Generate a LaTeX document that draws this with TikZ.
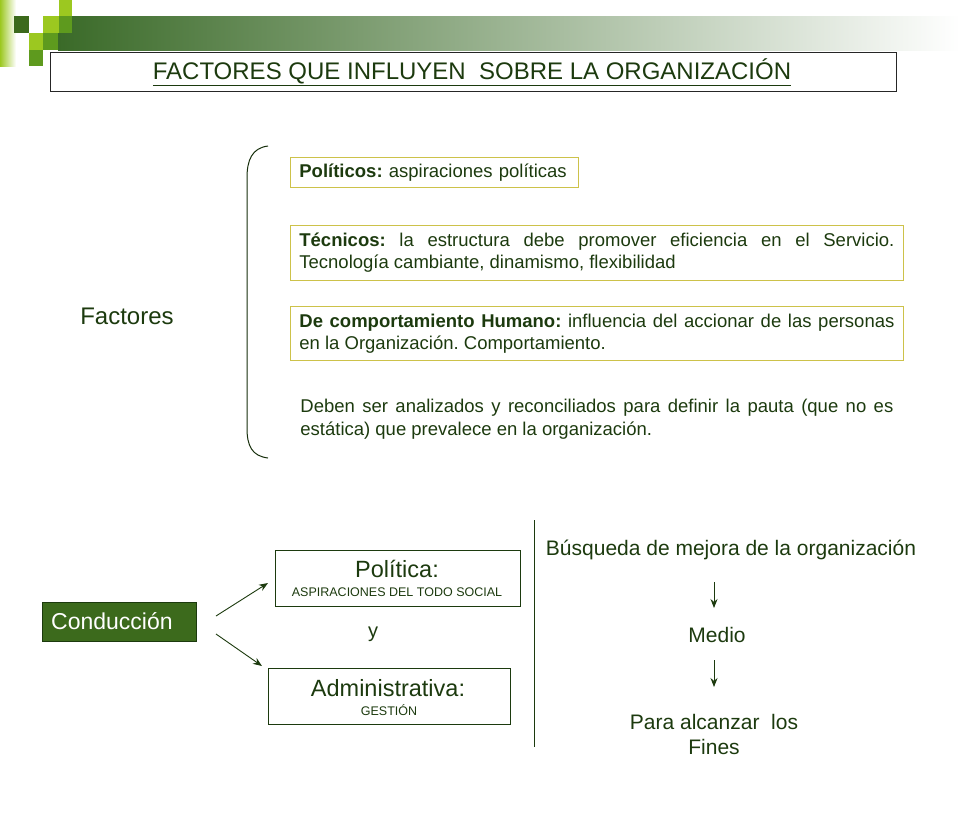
\documentclass[tikz,border=0pt]{standalone}
\usepackage{fontspec}
\setmainfont{Liberation Sans}
\usetikzlibrary{arrows.meta,calc}
\definecolor{txtgreen}{HTML}{1C3A0E}
\definecolor{darkgreen}{HTML}{3C6A1C}
\definecolor{midgreen}{HTML}{5E9A1E}
\definecolor{limegreen}{HTML}{9CC820}
\definecolor{boxyellow}{HTML}{CDC24A}
\definecolor{barstart}{HTML}{3A6A28}
\tikzset{
  factbox/.style={draw=boxyellow, line width=0.8pt, inner xsep=9pt, inner ysep=0pt, anchor=north west, text=txtgreen, align=justify, font=\fontsize{18.5}{22}\selectfont},
  plainbox/.style={draw=txtgreen, line width=0.8pt, text=txtgreen, align=center, inner sep=0pt},
  lbl/.style={text=txtgreen, inner sep=0pt},
  arr/.style={-{Stealth[length=9pt,width=7pt]}, draw=txtgreen, line width=0.9pt}
}
\begin{document}
\frenchspacing
\begin{tikzpicture}[x=1pt,y=-1pt]
\useasboundingbox (0,0) rectangle (960,831);
% top decoration
\shade[left color=limegreen, right color=white] (0,0) rectangle (16,66);
\shade[left color=barstart, right color=white] (58,16) rectangle (960,50);
\fill[limegreen] (59,0) rectangle (72,16);
\fill[darkgreen] (14,16) rectangle (29,33);
\fill[limegreen] (43,16) rectangle (59,33);
\fill[midgreen] (59,16) rectangle (72,33);
\fill[limegreen] (29,33) rectangle (43,50);
\fill[midgreen] (43,33) rectangle (58,50);
\fill[midgreen] (29,50) rectangle (43,66);
% title
\node[plainbox, draw=black!85, minimum width=846pt, minimum height=39pt, anchor=north west] (title) at (50,52) {};
\node[lbl, font=\fontsize{24}{28}\selectfont] (titletext) at (472,72) {\underline{FACTORES QUE INFLUYEN\ \ SOBRE LA ORGANIZACIÓN}};
% bracket
\draw[txtgreen!80!black, line width=1pt] (268,146) .. controls (252,148) and (247,160) .. (247,178) -- (247,428) .. controls (247,446) and (252,456) .. (268,458);
\node[lbl, font=\fontsize{24}{28}\selectfont] (factores) at (127,316) {Factores};
% factor boxes
\node[factbox, align=left, text width=270pt, minimum height=30pt] (pol) at (290,157) {\textbf{Políticos:} aspiraciones políticas};
\node[factbox, text width=595pt, minimum height=55pt] (tec) at (290,225) {\textbf{Técnicos:} la estructura debe promover eficiencia en el Servicio.\linebreak Tecnología cambiante, dinamismo, flexibilidad};
\node[factbox, text width=595pt, minimum height=54pt] (hum) at (290,306) {\textbf{De comportamiento Humano:} influencia del accionar de las personas\linebreak en la Organización. Comportamiento.};
\node[factbox, draw=none, text width=593pt, minimum height=56pt, font=\fontsize{18.5}{23}\selectfont] (deben) at (291,391) {Deben ser analizados y reconciliados para definir la pauta (que no es\linebreak estática) que prevalece en la organización.};
% bottom
\node[fill=darkgreen, draw=txtgreen, minimum width=154pt, minimum height=39pt, anchor=north west] (cond) at (42,602) {};
\node[text=white, font=\fontsize{23}{27}\selectfont, anchor=west, inner sep=0pt] (condtext) at (51,621) {Conducción};
\node[plainbox, minimum width=245pt, minimum height=56pt, anchor=north west] (polb) at (275,550) {};
\node[lbl, font=\fontsize{23.5}{27}\selectfont] (poltitle) at (397,569) {Política:};
\node[lbl, font=\fontsize{12.5}{15}\selectfont] (polsub) at (397,592) {ASPIRACIONES\ DEL TODO\ SOCIAL};
\node[plainbox, minimum width=242pt, minimum height=56pt, anchor=north west] (admb) at (268,668) {};
\node[lbl, font=\fontsize{23.5}{27}\selectfont] (admtitle) at (388,688) {Administrativa:};
\node[lbl, font=\fontsize{12.5}{15}\selectfont] (admsub) at (389,710) {GESTIÓN};
\node[lbl, font=\fontsize{20}{24}\selectfont] (y) at (373,634) {y};
\coordinate (a1s) at (216,616);
\coordinate (a1e) at (268,583);
\coordinate (a2s) at (216,634);
\coordinate (a2e) at (262,666);
\draw[arr] (a1s) -- (a1e);
\draw[arr] (a2s) -- (a2e);
\coordinate (vtop) at (534,520);
\coordinate (vbot) at (534,747);
\draw[txtgreen, line width=1pt] (vtop) -- (vbot);
\node[lbl, font=\fontsize{21}{25}\selectfont] (busq) at (731,550) {Búsqueda de mejora\ de la organización};
\node[lbl, font=\fontsize{21}{25}\selectfont] (medio) at (717,635) {Medio};
\node[lbl, font=\fontsize{21}{25}\selectfont, align=center] (fines) at (714,734) {Para alcanzar\ \ los\\Fines};
\coordinate (d1s) at (714,582);
\coordinate (d1e) at (714,608);
\coordinate (d2s) at (714,660);
\coordinate (d2e) at (714,687);
\draw[arr] (d1s) -- (d1e);
\draw[arr] (d2s) -- (d2e);
\end{tikzpicture}
\end{document}
